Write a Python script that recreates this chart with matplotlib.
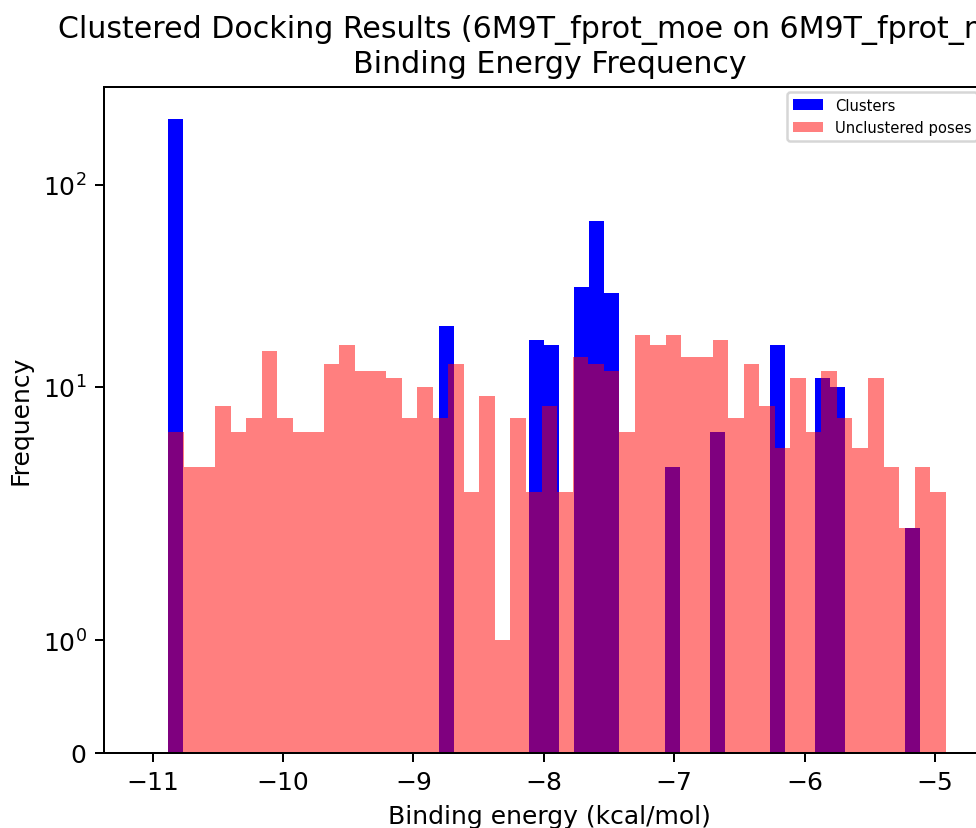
import numpy as np
import matplotlib
matplotlib.use("Agg")
import matplotlib.pyplot as plt
from matplotlib.ticker import NullLocator

# ---- data ----
# Unclustered poses: 50 equal-width bins between these energies
pose_min, pose_max = -10.879, -4.918
pose_counts = [6, 4, 4, 8, 6, 7, 15, 7, 6, 6,
               13, 16, 12, 12, 11, 7, 10, 7, 13, 3,
               9, 1, 7, 3, 8, 3, 14, 13, 12, 6,
               18, 16, 18, 14, 14, 17, 7, 13, 8, 5,
               11, 6, 12, 7, 5, 11, 4, 2, 4, 3]

# Clusters: 50 equal-width bins between these energies
clus_min, clus_max = -10.879, -5.114
clus_counts = [212, 0, 0, 0, 0, 0, 0, 0, 0, 0,
               0, 0, 0, 0, 0, 0, 0, 0, 20, 0,
               0, 0, 0, 0, 17, 16, 0, 31, 66, 29,
               0, 0, 0, 4, 0, 0, 6, 0, 0, 0,
               16, 0, 0, 11, 10, 0, 0, 0, 0, 2]

title = "Clustered Docking Results (6M9T_fprot_moe on 6M9T_fprot_moe)\nBinding Energy Frequency"
xlabel = "Binding energy (kcal/mol)"
ylabel = "Frequency"
labels = ["Clusters", "Unclustered poses"]

# ---- figure ----
fig = plt.figure(figsize=(976 / 180, 829 / 180), dpi=180)
ax = fig.add_axes([104 / 976, 1 - 753.5 / 829, (995 - 104) / 976, (753.5 - 88) / 829])

clus_edges = np.linspace(clus_min, clus_max, len(clus_counts) + 1)
pose_edges = np.linspace(pose_min, pose_max, len(pose_counts) + 1)
clus_centers = 0.5 * (clus_edges[:-1] + clus_edges[1:])
pose_centers = 0.5 * (pose_edges[:-1] + pose_edges[1:])

ax.hist(clus_centers, bins=clus_edges, weights=clus_counts, color="b", label=labels[0])
ax.hist(pose_centers, bins=pose_edges, weights=pose_counts, color="r", alpha=0.5, label=labels[1])

ax.set_yscale("symlog")
ax.yaxis.set_minor_locator(NullLocator())
ax.set_xlim(-11.373, -4.54)

ax.set_title(title, fontsize=12)
ax.set_xlabel(xlabel)
ax.set_ylabel(ylabel)
ax.legend(loc="upper right", fontsize=5.9,
          bbox_to_anchor=(0.980, 0.993), borderaxespad=0)

fig.savefig("out.png", dpi=180)
